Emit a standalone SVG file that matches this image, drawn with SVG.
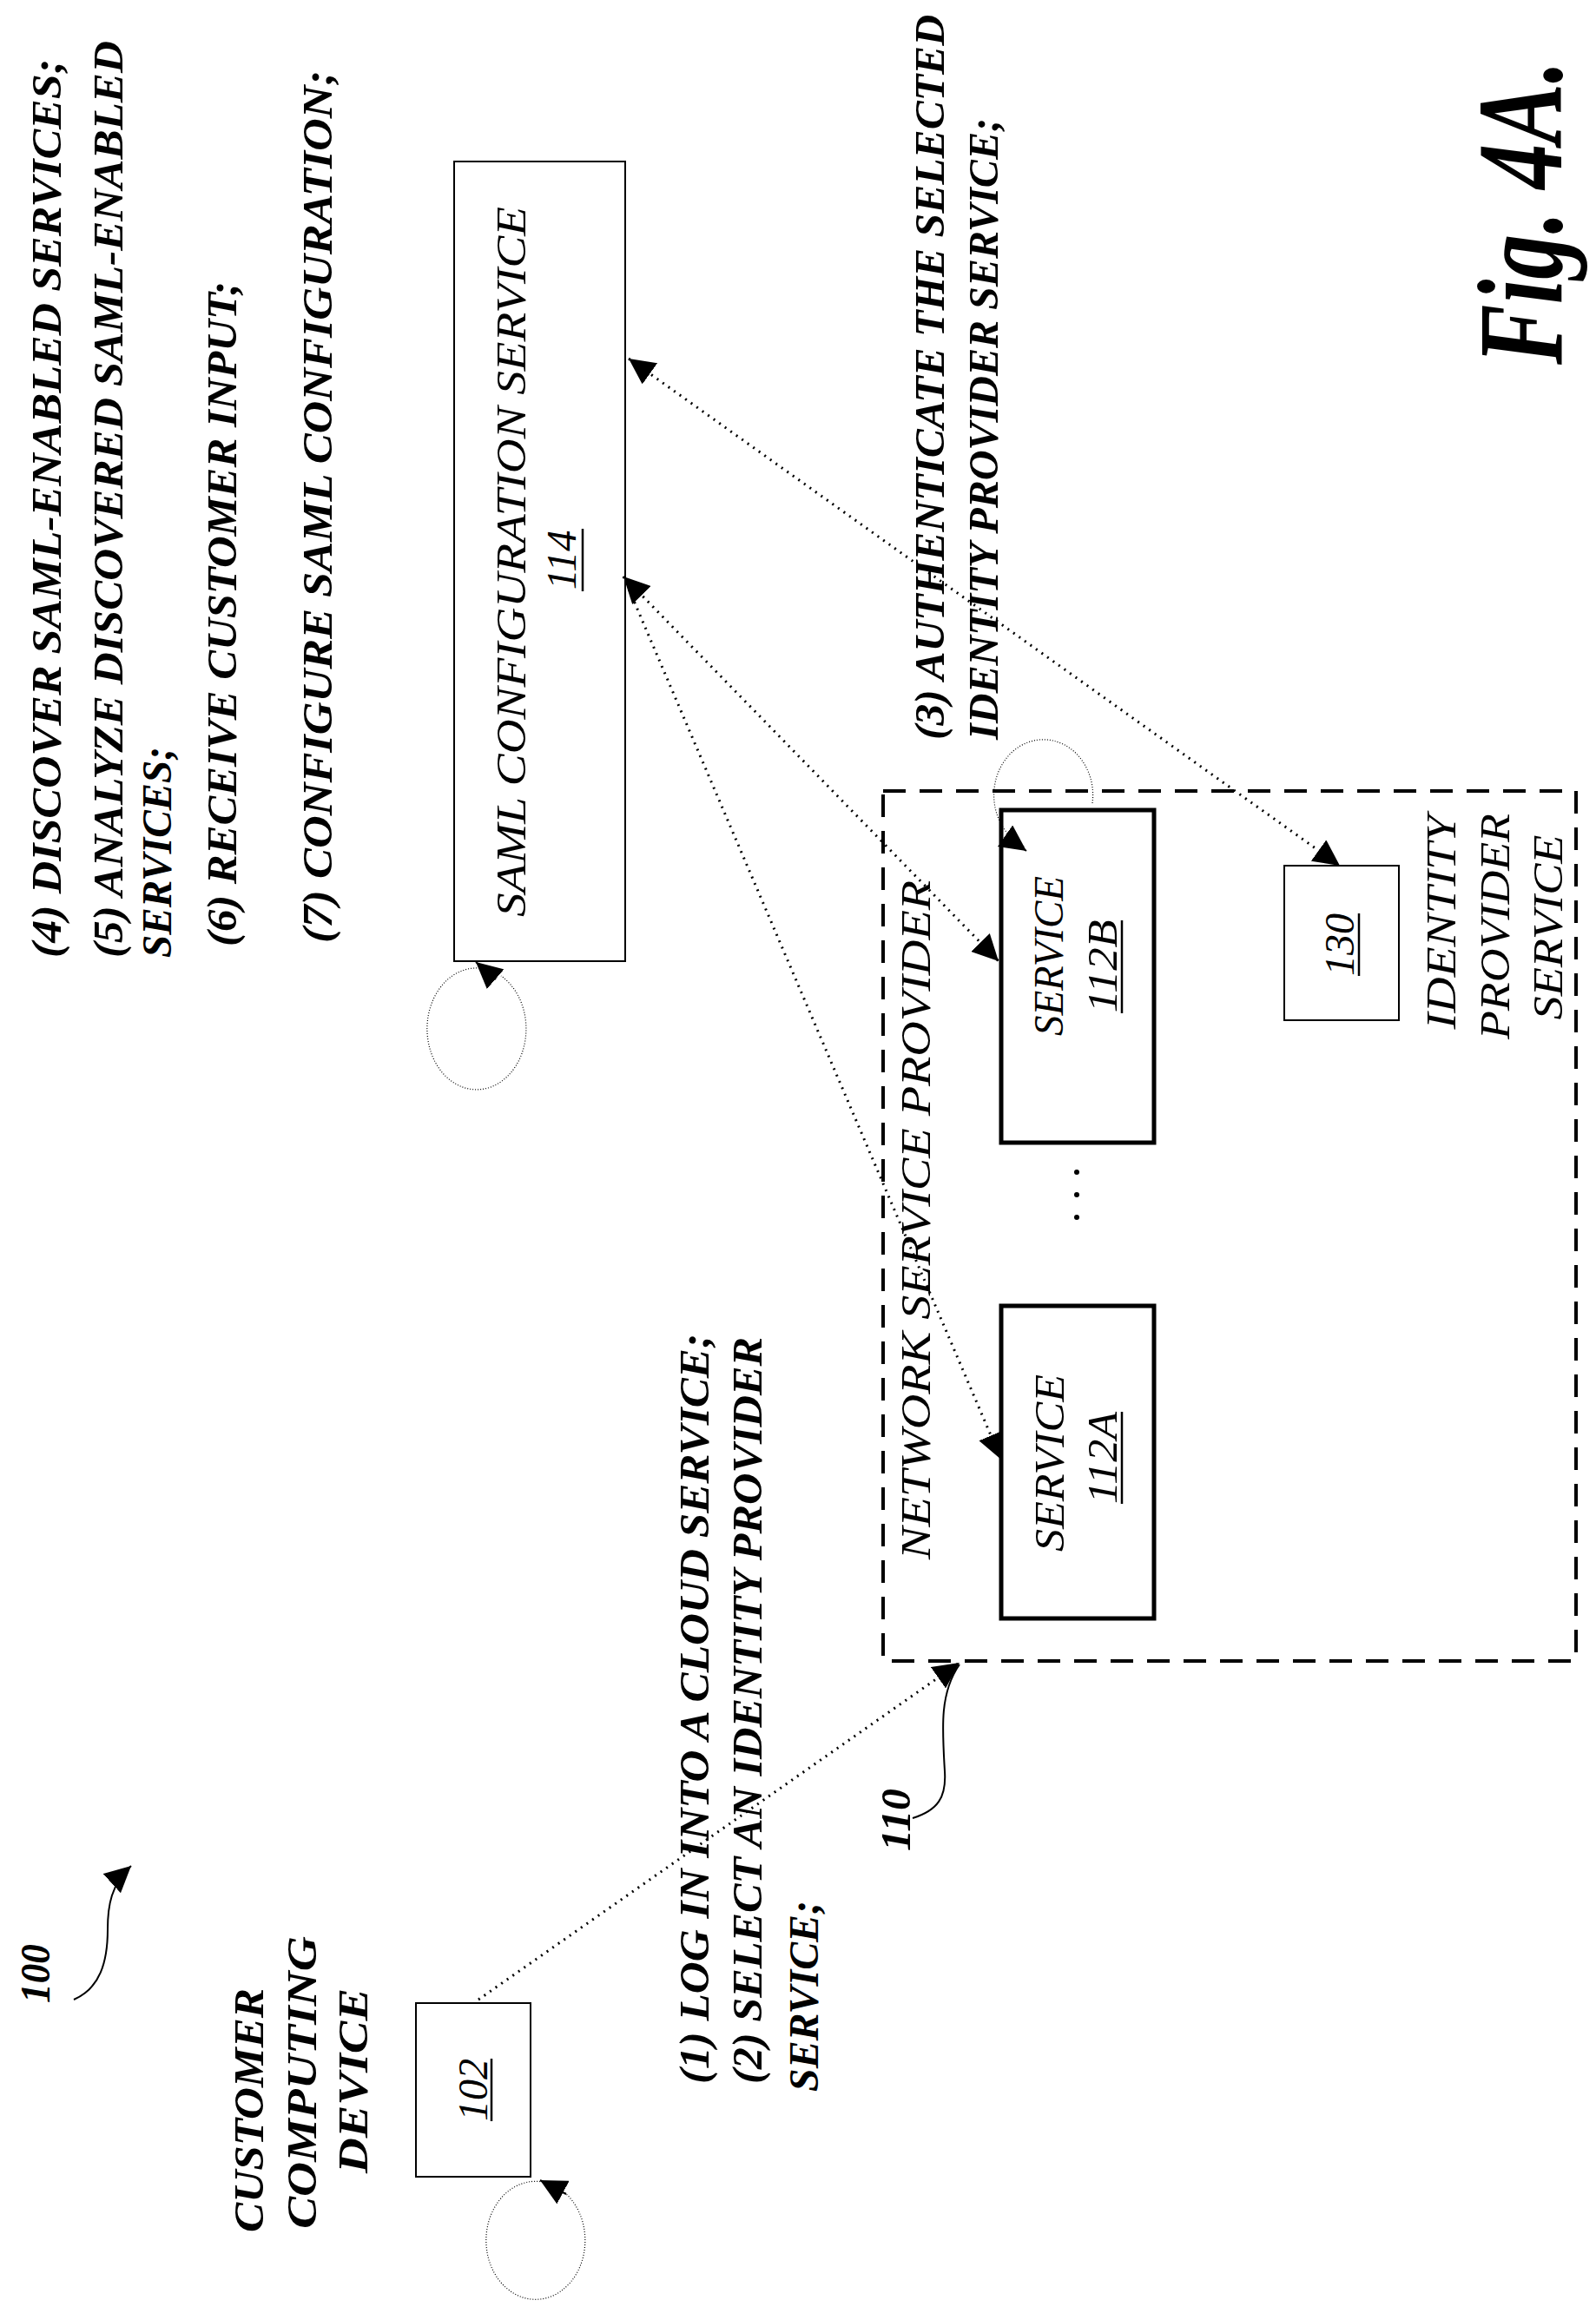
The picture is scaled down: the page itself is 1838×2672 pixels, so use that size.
<svg xmlns="http://www.w3.org/2000/svg" width="1838" height="2672" viewBox="0 0 1838 2672">
<style>
.t{font-family:"Liberation Serif",serif;font-style:italic;font-size:48px;fill:#000}
.b{font-weight:bold}
.fig{font-size:140px}
.box{fill:#fff;stroke:#000;stroke-width:2}
.thick{fill:#fff;stroke:#000;stroke-width:5}
.dot{fill:none;stroke:#000;stroke-width:3;stroke-dasharray:2 6}
.loop{fill:none;stroke:#000;stroke-width:1.2;stroke-dasharray:1 2}
.ul{stroke:#000;stroke-width:2.5}
</style>
<defs>
<marker id="ah" viewBox="0 0 10 10" refX="10" refY="5" markerWidth="30" markerHeight="30" markerUnits="userSpaceOnUse" orient="auto-start-reverse"><path d="M0,0 L10,5 L0,10 z" fill="#000"/></marker>
</defs>
<rect width="1838" height="2672" fill="#fff"/>

<g id="steps-4-7">
<text class="t b" transform="translate(70,1103) rotate(-90)" textLength="1035" lengthAdjust="spacingAndGlyphs">(4) DISCOVER SAML-ENABLED SERVICES;</text>
<text class="t b" transform="translate(141,1103) rotate(-90)" textLength="1056" lengthAdjust="spacingAndGlyphs">(5) ANALYZE DISCOVERED SAML-ENABLED</text>
<text class="t b" transform="translate(197,1103) rotate(-90)" textLength="243" lengthAdjust="spacingAndGlyphs">SERVICES;</text>
<text class="t b" transform="translate(272,1090) rotate(-90)" textLength="766" lengthAdjust="spacingAndGlyphs">(6) RECEIVE CUSTOMER INPUT;</text>
<text class="t b" transform="translate(382,1086) rotate(-90)" textLength="1005" lengthAdjust="spacingAndGlyphs">(7) CONFIGURE SAML CONFIGURATION;</text>
</g>

<g id="saml">
<rect class="box" x="523" y="186" width="197" height="921"/>
<text class="t" transform="translate(605,647) rotate(-90)" text-anchor="middle" textLength="818" lengthAdjust="spacingAndGlyphs">SAML CONFIGURATION SERVICE</text>
<text class="t" transform="translate(663,645) rotate(-90)" text-anchor="middle">114</text>
<line class="ul" x1="671" y1="681" x2="671" y2="609"/>
</g>

<g id="nsp">
<rect x="1017" y="911" width="798" height="1002" fill="none" stroke="#000" stroke-width="4" stroke-dasharray="26 16"/>
<text class="t" transform="translate(1071,1796) rotate(-90)" textLength="782" lengthAdjust="spacingAndGlyphs">NETWORK SERVICE PROVIDER</text>
</g>

<g id="s112b">
<rect class="thick" x="1153" y="933" width="176" height="383"/>
<text class="t" transform="translate(1224,1101) rotate(-90)" text-anchor="middle" textLength="184" lengthAdjust="spacingAndGlyphs">SERVICE</text>
<text class="t" transform="translate(1286,1113) rotate(-90)" text-anchor="middle" textLength="107" lengthAdjust="spacingAndGlyphs">112B</text>
<line class="ul" x1="1292" y1="1167" x2="1292" y2="1060"/>
</g>

<g id="s112a">
<rect class="thick" x="1153" y="1504" width="176" height="360"/>
<text class="t" transform="translate(1225,1685) rotate(-90)" text-anchor="middle" textLength="204" lengthAdjust="spacingAndGlyphs">SERVICE</text>
<text class="t" transform="translate(1286,1679) rotate(-90)" text-anchor="middle" textLength="106" lengthAdjust="spacingAndGlyphs">112A</text>
<line class="ul" x1="1292" y1="1732" x2="1292" y2="1626"/>
</g>

<g id="ellipsis">
<circle cx="1240" cy="1350" r="3"/><circle cx="1240" cy="1376" r="3"/><circle cx="1240" cy="1402" r="3"/>
</g>

<g id="idp">
<rect class="box" x="1479" y="997" width="132" height="178"/>
<text class="t" transform="translate(1559,1088) rotate(-90)" text-anchor="middle">130</text>
<line class="ul" x1="1565" y1="1124" x2="1565" y2="1052"/>
<text class="t" transform="translate(1676,1062) rotate(-90)" text-anchor="middle" textLength="247" lengthAdjust="spacingAndGlyphs">IDENTITY</text>
<text class="t" transform="translate(1738,1067) rotate(-90)" text-anchor="middle" textLength="260" lengthAdjust="spacingAndGlyphs">PROVIDER</text>
<text class="t" transform="translate(1799,1068) rotate(-90)" text-anchor="middle" textLength="213" lengthAdjust="spacingAndGlyphs">SERVICE</text>
</g>

<g id="step3">
<text class="t b" transform="translate(1087,852) rotate(-90)" textLength="835" lengthAdjust="spacingAndGlyphs">(3) AUTHENTICATE THE SELECTED</text>
<text class="t b" transform="translate(1149,852) rotate(-90)" textLength="716" lengthAdjust="spacingAndGlyphs">IDENTITY PROVIDER SERVICE;</text>
</g>

<g id="customer">
<text class="t b" transform="translate(303,2571) rotate(-90)" textLength="281" lengthAdjust="spacingAndGlyphs">CUSTOMER</text>
<text class="t b" transform="translate(364,2567) rotate(-90)" textLength="337" lengthAdjust="spacingAndGlyphs">COMPUTING</text>
<text class="t b" transform="translate(423,2503) rotate(-90)" textLength="213" lengthAdjust="spacingAndGlyphs">DEVICE</text>
<rect class="box" x="479" y="2307" width="132" height="200"/>
<text class="t" transform="translate(561,2407) rotate(-90)" text-anchor="middle">102</text>
<line class="ul" x1="566" y1="2443" x2="566" y2="2371"/>
</g>

<g id="steps-1-2">
<text class="t b" transform="translate(816,2400) rotate(-90)" textLength="864" lengthAdjust="spacingAndGlyphs">(1) LOG IN INTO A CLOUD SERVICE;</text>
<text class="t b" transform="translate(877,2400) rotate(-90)" textLength="860" lengthAdjust="spacingAndGlyphs">(2) SELECT AN IDENTITY PROVIDER</text>
<text class="t b" transform="translate(942,2409) rotate(-90)" textLength="220" lengthAdjust="spacingAndGlyphs">SERVICE;</text>
</g>

<g id="refs">
<text class="t b" transform="translate(57,2307) rotate(-90)" textLength="68" lengthAdjust="spacingAndGlyphs">100</text>
<text class="t b" transform="translate(1048,2132) rotate(-90)" textLength="72" lengthAdjust="spacingAndGlyphs">110</text>
<text class="t b fig" transform="translate(1798,420) rotate(-90)" textLength="350" lengthAdjust="spacingAndGlyphs">Fig. 4A.</text>
</g>

<g id="connectors">
<line class="dot" x1="551" y1="2303" x2="1105" y2="1915" marker-end="url(#ah)"/>
<line class="dot" x1="724" y1="413" x2="1543" y2="997" marker-start="url(#ah)" marker-end="url(#ah)"/>
<line class="dot" x1="718" y1="664" x2="1150" y2="1107" marker-start="url(#ah)" marker-end="url(#ah)"/>
<line class="dot" x1="718" y1="664" x2="1153" y2="1681" marker-end="url(#ah)"/>
<path d="M85,2303 C115,2290 124,2260 124,2222 C124,2195 128,2170 151,2149" fill="none" stroke="#000" stroke-width="2" marker-end="url(#ah)"/>
<path d="M1051,2094 C1080,2085 1090,2070 1088,2040 C1085,1990 1082,1950 1105,1917" fill="none" stroke="#000" stroke-width="2"/>
<path d="M552,1115 A57,70 0 1 0 577,1124" class="loop"/>
<path d="M571,1128 L548,1108" stroke="#000" stroke-width="2" marker-end="url(#ah)"/>
<path d="M1258,925 A57,64 0 1 0 1180,975" class="loop"/>
<path d="M1165,968 L1182,980" stroke="#000" stroke-width="2" marker-end="url(#ah)"/>
<path d="M625,2513 A57,68 0 1 0 650,2525" class="loop"/>
<path d="M652,2527 L622,2511" stroke="#000" stroke-width="2" marker-end="url(#ah)"/>
</g>
</svg>
